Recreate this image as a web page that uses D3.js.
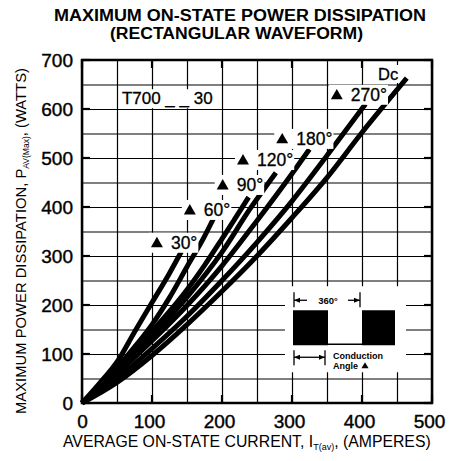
<!DOCTYPE html>
<html>
<head>
<meta charset="utf-8">
<script src="https://cdn.jsdelivr.net/npm/d3@7"></script>
<style>
  body { margin: 0; background: #fff; }
  svg { display: block; font-family: "Liberation Sans", Arial, Helvetica, sans-serif; }
</style>
</head>
<body>
<div id="chart"></div>
<script>
const width = 456, height = 461;

// curves: [average current (A), power (W)]
const curve30  = [[0,0],[25,40],[52,88],[75,145],[100,205],[125,265],[142,309]];
const curve60  = [[0,0],[25,33],[50,72],[75,114],[100,160],[125,215],[150,278],[175,340],[188,377]];
const curve90  = [[0,0],[50,70],[100,146],[150,231],[175,281],[200,335],[238,420]];
const curve120 = [[0,0],[50,66],[100,136],[150,216],[200,308],[240,396],[277,470]];
const curve180 = [[0,0],[50,60],[100,127],[150,199],[200,280],[250,372],[300,468],[325,518]];
const curve270 = [[0,0],[50,50],[100,111],[150,177],[200,250],[250,328],[300,412],[350,505],[405,610]];
const curveDc  = [[0,0],[50,42],[100,97],[150,160],[200,228],[250,300],[300,378],[350,460],[400,552],[464,663]];

const curveNames = ["30°", "60°", "90°", "120°", "180°", "270°", "Dc"];
// label anchors in data units (A, W)
const labelAt = [[107,327],[154,394],[201,445],[230,496],[286,539],[364,629],[423,671]];

const xTicks = [0, 100, 200, 300, 400, 500];
const yTicks = [0, 100, 200, 300, 400, 500, 600, 700];
const gridX = d3.range(0, 501, 50);
const gridY = d3.range(0, 701, 50);

const x = d3.scaleLinear().domain([0, 500]).range([82, 432]);
const y = d3.scaleLinear().domain([0, 700]).range([403, 60]);

const svg = d3.select("#chart").append("svg")
    .attr("width", width)
    .attr("height", height);

// title
svg.append("text")
    .attr("x", 240).attr("y", 20.5).attr("text-anchor", "middle")
    .attr("font-weight", "bold").attr("font-size", 16)
    .attr("textLength", 372).attr("lengthAdjust", "spacingAndGlyphs")
    .text("MAXIMUM ON-STATE POWER DISSIPATION");
svg.append("text")
    .attr("x", 236.5).attr("y", 38.5).attr("text-anchor", "middle")
    .attr("font-weight", "bold").attr("font-size", 16)
    .attr("textLength", 253).attr("lengthAdjust", "spacingAndGlyphs")
    .text("(RECTANGULAR WAVEFORM)");

// grid
const plotH = y(0) - y(700), plotW = x(500) - x(0);
svg.append("g")
    .attr("transform", `translate(0,${y(0)})`)
    .call(d3.axisBottom(x).tickValues(gridX).tickSize(-plotH).tickFormat(""))
    .call(g => g.select(".domain").remove())
    .selectAll("line").attr("stroke", "#000").attr("stroke-width", 1.2);
svg.append("g")
    .attr("transform", `translate(${x(0)},0)`)
    .call(d3.axisLeft(y).tickValues(gridY).tickSize(-plotW).tickFormat(""))
    .call(g => g.select(".domain").remove())
    .selectAll("line").attr("stroke", "#000").attr("stroke-width", 1.2);

// short heavy ticks inside the frame
const ticks = svg.append("g").attr("stroke", "#000").attr("stroke-width", 2.2);
yTicks.forEach(v => {
  ticks.append("line").attr("x1", x(0)).attr("x2", x(0) + 8).attr("y1", y(v)).attr("y2", y(v));
  ticks.append("line").attr("x1", x(500)).attr("x2", x(500) - 8).attr("y1", y(v)).attr("y2", y(v));
});
xTicks.forEach(v => {
  ticks.append("line").attr("x1", x(v)).attr("x2", x(v)).attr("y1", y(0)).attr("y2", y(0) - 8);
  ticks.append("line").attr("x1", x(v)).attr("x2", x(v)).attr("y1", y(700)).attr("y2", y(700) + 8);
});

// frame
svg.append("rect")
    .attr("x", x(0)).attr("y", y(700)).attr("width", plotW).attr("height", plotH)
    .attr("fill", "none").attr("stroke", "#000").attr("stroke-width", 2.5);

// tick labels
svg.append("g")
    .attr("transform", `translate(0,${y(0)})`)
    .call(d3.axisBottom(x).tickValues(xTicks).tickSize(0).tickPadding(12))
    .call(g => g.select(".domain").remove())
    .attr("font-size", 19).attr("font-family", null)
    .selectAll("text").attr("fill", "#000").attr("stroke", "#000").attr("stroke-width", 0.4)
    .attr("dx", d => d > 0 ? -3 : 0);
svg.append("g")
    .attr("transform", `translate(${x(0)},0)`)
    .call(d3.axisLeft(y).tickValues(yTicks).tickSize(0).tickPadding(9))
    .call(g => g.select(".domain").remove())
    .attr("font-size", 19).attr("font-family", null)
    .selectAll("text").attr("fill", "#000").attr("stroke", "#000").attr("stroke-width", 0.4);

// axis titles
const xt = svg.append("text").attr("x", 63).attr("y", 446.5).attr("font-size", 15.8);
xt.append("tspan").text("AVERAGE ON-STATE CURRENT, I");
xt.append("tspan").attr("font-size", 9).attr("dy", 3).text("T(av)");
xt.append("tspan").attr("dy", -3).text(", (AMPERES)");

const yt = svg.append("text")
    .attr("transform", "translate(26.3,241) rotate(-90)")
    .attr("text-anchor", "middle").attr("font-size", 14.8);
yt.append("tspan").text("MAXIMUM POWER DISSIPATION, P");
yt.append("tspan").attr("font-size", 8.5).attr("dy", 3).text("AV(Max)");
yt.append("tspan").attr("dy", -3).text(", (WATTS)");

// inset: rectangular waveform
const ix = x(300), iy = y(226);
const inset = svg.append("g").attr("transform", `translate(${ix},${iy})`);
inset.append("rect").attr("x", -7).attr("y", -6).attr("width", 121).attr("height", 86).attr("fill", "#fff");
inset.append("rect").attr("x", 1).attr("y", 18).attr("width", 35).attr("height", 35).attr("fill", "#000");
inset.append("rect").attr("x", 70).attr("y", 18).attr("width", 33).attr("height", 35).attr("fill", "#000");
inset.append("line").attr("x1", 36).attr("x2", 70).attr("y1", 52).attr("y2", 52)
    .attr("stroke", "#000").attr("stroke-width", 1.5);
const dims = inset.append("g").attr("stroke", "#000").attr("stroke-width", 1.3);
dims.append("line").attr("x1", 2).attr("x2", 2).attr("y1", 0).attr("y2", 15);
dims.append("line").attr("x1", 68).attr("x2", 68).attr("y1", 0).attr("y2", 15);
dims.append("line").attr("x1", 2).attr("x2", 15).attr("y1", 8).attr("y2", 8);
dims.append("line").attr("x1", 56).attr("x2", 68).attr("y1", 8).attr("y2", 8);
dims.append("line").attr("x1", 2).attr("x2", 2).attr("y1", 58).attr("y2", 73);
dims.append("line").attr("x1", 33).attr("x2", 33).attr("y1", 58).attr("y2", 73);
dims.append("line").attr("x1", 2).attr("x2", 33).attr("y1", 65).attr("y2", 65);
const arrow = (px, py, dir) => inset.append("path")
    .attr("d", `M${px},${py} l${-6 * dir},-2.5 l0,5 Z`).attr("fill", "#000");
arrow(2, 8, -1); arrow(68, 8, 1); arrow(2, 65, -1); arrow(33, 65, 1);
inset.append("text").attr("x", 36).attr("y", 11.5).attr("text-anchor", "middle")
    .attr("font-size", 9.5).attr("font-weight", "bold").text("360°");
inset.append("text").attr("x", 41).attr("y", 67).attr("font-size", 9).attr("font-weight", "bold").text("Conduction");
inset.append("text").attr("x", 41).attr("y", 77).attr("font-size", 9).attr("font-weight", "bold").text("Angle");
inset.append("path").attr("d", d3.symbol(d3.symbolTriangle, 22)()).attr("transform", "translate(73,74)");

// curves
const line = d3.line().x(d => x(d[0])).y(d => y(d[1])).curve(d3.curveMonotoneX);
svg.append("g").selectAll("path")
    .data([curve30, curve60, curve90, curve120, curve180, curve270, curveDc])
    .enter().append("path")
    .attr("d", line)
    .attr("fill", "none").attr("stroke", "#000").attr("stroke-width", 5)
    .attr("stroke-linecap", "butt");

// curve labels with white backing
curveNames.forEach((name, i) => {
  const [a, w] = labelAt[i];
  const g = svg.append("g").attr("transform", `translate(${x(a)},${y(w)})`);
  const bg = g.append("rect").attr("fill", "#fff");
  if (name === "Dc") {
    g.append("text").attr("x", 0).attr("y", 5.8).attr("font-size", 16.5)
        .attr("stroke", "#000").attr("stroke-width", 0.3).text(name);
  } else {
    g.append("path").attr("d", d3.symbol(d3.symbolTriangle, 62)()).attr("transform", "translate(0,1)");
    g.append("text").attr("x", 14).attr("y", 6).attr("font-size", 17.5)
        .attr("stroke", "#000").attr("stroke-width", 0.3).text(name);
  }
  const b = g.node().getBBox();
  bg.attr("x", b.x - 2).attr("y", b.y).attr("width", b.width + 3).attr("height", b.height);
});

// part number
const pn = svg.append("g").attr("transform", `translate(${x(57)},${y(622)})`);
const pnBg = pn.append("rect").attr("fill", "#fff");
pn.append("text").attr("y", 6).attr("font-size", 17)
    .attr("stroke", "#000").attr("stroke-width", 0.3).text("T700 _ _ 30");
const pb = pn.node().getBBox();
pnBg.attr("x", pb.x - 3).attr("y", pb.y).attr("width", pb.width + 6).attr("height", pb.height);
</script>
</body>
</html>
